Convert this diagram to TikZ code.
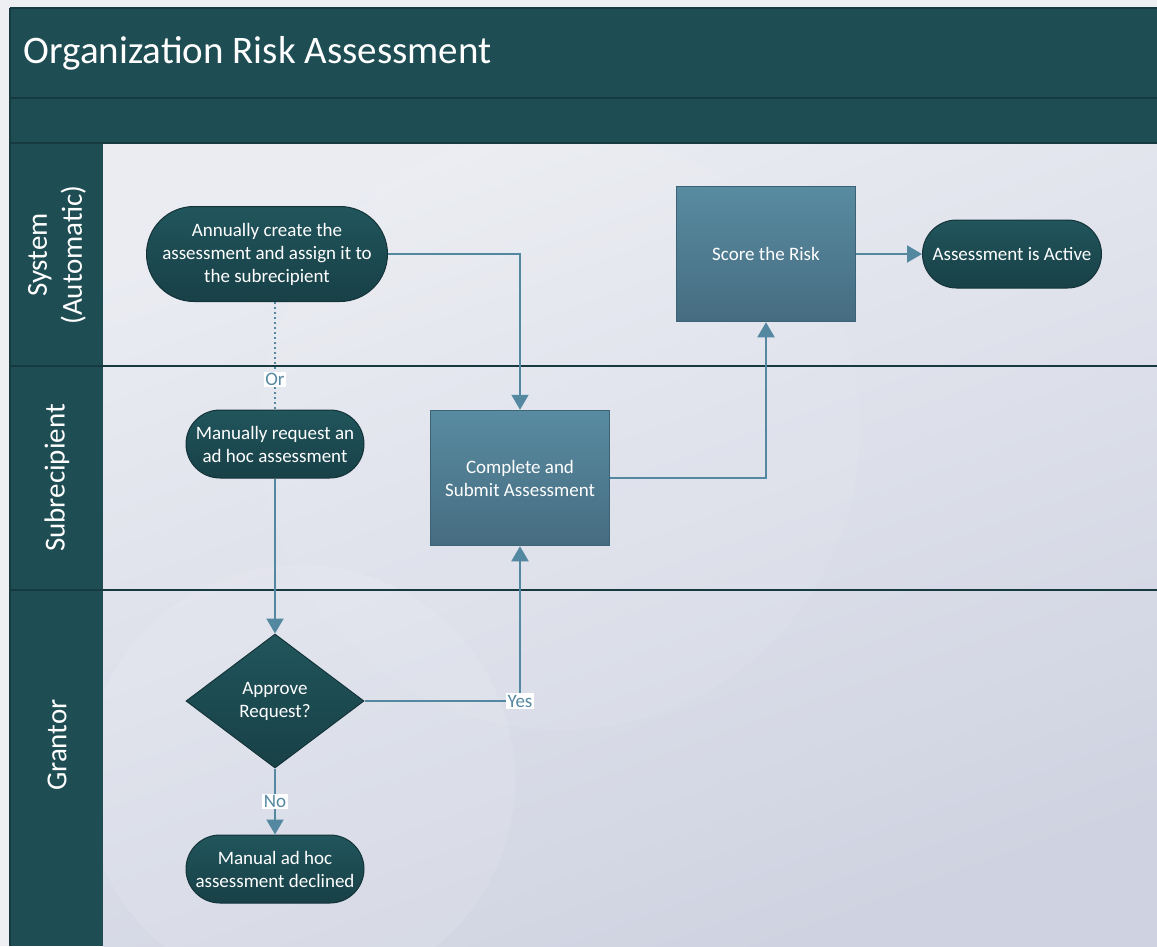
\documentclass[tikz,border=0pt]{standalone}
\usepackage{fontspec}
\setmainfont{Carlito}
\usetikzlibrary{arrows.meta,shapes.geometric,shapes.misc}

\definecolor{pageback}{RGB}{238,239,243}
\definecolor{poolteal}{RGB}{30,77,83}
\definecolor{poolline}{RGB}{22,58,64}
\definecolor{lanetop}{RGB}{234,236,242}
\definecolor{lanebot}{RGB}{207,211,225}
\definecolor{termtop}{RGB}{33,85,92}
\definecolor{termbot}{RGB}{24,64,71}
\definecolor{termedge}{RGB}{20,52,58}
\definecolor{proctop}{RGB}{88,139,161}
\definecolor{procbot}{RGB}{70,108,128}
\definecolor{procedge}{RGB}{60,98,118}
\definecolor{flowblue}{RGB}{84,135,160}

\begin{document}
\begin{tikzpicture}[
x=1pt,
y=-1pt,
termnode/.style={rounded rectangle, draw=termedge, top color=termtop, bottom color=termbot, line width=1pt, text=white, align=center, inner sep=0pt, font=\fontsize{19}{23}\selectfont},
procnode/.style={rectangle, draw=procedge, top color=proctop, bottom color=procbot, line width=1.5pt, text=white, align=center, minimum width=179pt, minimum height=135pt, font=\fontsize{19}{23}\selectfont},
decnode/.style={diamond, draw=termedge, top color=termtop, bottom color=termbot, line width=1pt, text=white, align=center, inner sep=0pt, minimum width=178pt, minimum height=134pt, font=\fontsize{19}{23}\selectfont},
flowline/.style={draw=flowblue, line width=2pt, -{Triangle[length=15pt,width=17pt]}},
edgelabel/.style={fill=white, text=flowblue, inner sep=1.5pt, font=\fontsize{19}{21}\selectfont},
lanelabel/.style={rotate=90, text=white, align=center, font=\fontsize{29}{35}\selectfont},
]
\useasboundingbox (0,0) rectangle (1157,946);
\fill[pageback] (0,0) rectangle (1157,946);

% pool: title bars, lane headers, lane body
\shade[top color=lanetop, bottom color=lanebot, shading angle=20] (103,143) rectangle (1157,946);
\begin{scope}
\clip (103,143) rectangle (1157,946);
\fill[white, fill opacity=0.1] (300,780) circle (215);
\fill[white, fill opacity=0.06] (560,430) circle (300);
\end{scope}
\fill[poolteal] (10,8) rectangle (1157,143);
\fill[poolteal] (10,143) rectangle (103,946);
\draw[poolline, line width=1.5pt] (10,98) -- (1157,98);
\draw[poolline, line width=1.5pt] (10,143) -- (1157,143);
\draw[poolline, line width=1.5pt] (10,8) -- (1157,8);
\draw[poolline, line width=1.5pt] (10,8) -- (10,946);
\foreach \y in {366,590}
{
 \draw[poolline, line width=1.5pt] (10,\y) -- (1157,\y);
}
\node[anchor=west, text=white, font=\fontsize{39}{45}\selectfont] (title) at (20,53) {Organization Risk Assessment};

\node[lanelabel] (lanesys) at (57,255) {System\\(Automatic)};
\node[lanelabel] (lanesub) at (57,478) {Subrecipient};
\node[lanelabel] (lanegrant) at (57,745) {Grantor};

% flow steps
\node[termnode, minimum width=241pt, minimum height=95pt] (annual) at (267,254) {Annually create the\\assessment and assign it to\\the subrecipient};
\node[termnode, minimum width=178pt, minimum height=68pt] (manual) at (275,444) {Manually request an\\ad hoc assessment};
\node[procnode] (complete) at (520,478) {Complete and\\Submit Assessment};
\node[procnode] (score) at (766,254) {Score the Risk};
\node[termnode, minimum width=179pt, minimum height=68pt] (active) at (1012,254) {Assessment is Active};
\node[decnode] (approve) at (275,701) {Approve\\Request?};
\node[termnode, minimum width=178pt, minimum height=68pt] (declined) at (275,869) {Manual ad hoc\\assessment declined};

% connectors
\draw[flowline] (annual.east) -| (complete.north);
\draw[flowline, -, dash pattern=on 2pt off 3pt] (manual.north |- annual.south) -- node[edgelabel, pos=0.72] {Or} (manual.north);
\draw[flowline] (manual.south) -- (approve.north);
\draw[flowline] (approve.east) -| node[edgelabel, pos=0.5] {Yes} (complete.south);
\draw[flowline] (approve.south) -- node[edgelabel, pos=0.5] {No} (declined.north);
\draw[flowline] (complete.east) -| (score.south);
\draw[flowline] (score.east) -- (active.west);
\end{tikzpicture}
\end{document}
